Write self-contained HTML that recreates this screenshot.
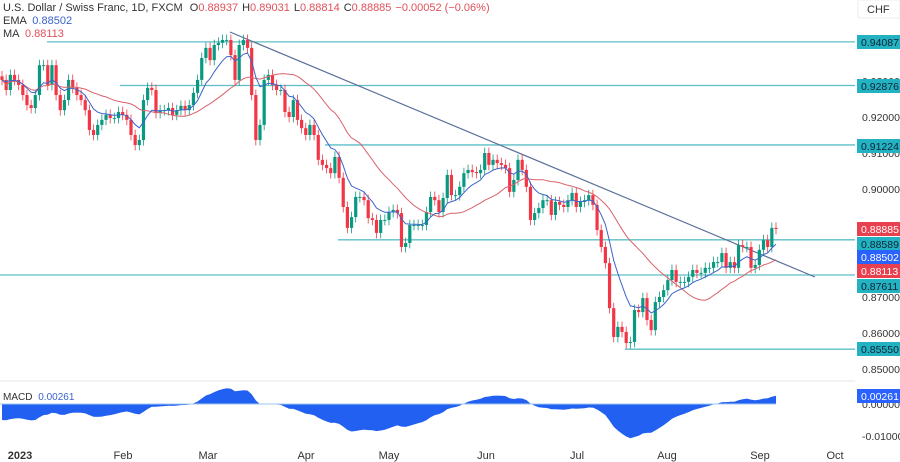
<!DOCTYPE html>
<html><head><meta charset="utf-8"><style>
body{margin:0;background:#fff;font-family:"Liberation Sans",sans-serif;}
svg{display:block}
</style></head><body>
<svg id="c" width="900" height="462" xmlns="http://www.w3.org/2000/svg">
<rect x="0" y="0" width="900" height="462" fill="#ffffff"/>
<g id="hlines"></g>
<line x1="230" y1="32" x2="815" y2="277" stroke="#5a6f9a" stroke-width="1.2"/>
<g id="candles"></g>
<path id="ma" fill="none" stroke="#d9626b" stroke-width="1"/>
<path id="ema" fill="none" stroke="#3b63c9" stroke-width="1"/>
<line x1="0" y1="381" x2="855" y2="381" stroke="#e6e6e6"/>
<path id="macd" fill="#2160f0"/>
<line x1="0" y1="404" x2="776" y2="404" stroke="#9ec5f0" stroke-width="1"/>
<g id="axis" font-size="10.5" fill="#333"></g>
<g id="labels" font-size="10.5"></g>
<g id="dates" font-size="11" fill="#333"></g>
<rect x="858" y="0" width="42" height="18" fill="#fff" stroke="#eee"/>
<text x="867" y="13" font-size="11" fill="#333">CHF</text>
<text x="3" y="11" font-size="11" fill="#333">U.S. Dollar / Swiss Franc, 1D, FXCM <tspan dx="4">O</tspan><tspan fill="#e0505a">0.88937</tspan><tspan dx="4">H</tspan><tspan fill="#e0505a">0.89031</tspan><tspan dx="4">L</tspan><tspan fill="#e0505a">0.88814</tspan><tspan dx="4">C</tspan><tspan fill="#e0505a">0.88885</tspan><tspan dx="4" fill="#e0505a">−0.00052 (−0.06%)</tspan></text>
<text x="3" y="24" font-size="11" fill="#333">EMA <tspan dx="3" fill="#3b63c9">0.88502</tspan></text>
<text x="3" y="37" font-size="11" fill="#333">MA <tspan dx="3" fill="#e0505a">0.88113</tspan></text>
<text x="3" y="400" font-size="10" fill="#333">MACD <tspan dx="3" fill="#3b63c9">0.00261</tspan></text>
</svg>
<script>
const closes=[0.9303,0.9275,0.9317,0.9303,0.9289,0.9261,0.9233,0.9225,0.9261,0.9344,0.9344,0.9289,0.9344,0.9261,0.9219,0.9247,0.9303,0.9281,0.9261,0.9247,0.9219,0.9164,0.9150,0.9178,0.9192,0.9206,0.9197,0.9197,0.9214,0.9206,0.9192,0.9150,0.9122,0.9136,0.9247,0.9281,0.9275,0.9211,0.9219,0.9219,0.9225,0.9206,0.9219,0.9231,0.9219,0.9233,0.9267,0.9303,0.9364,0.9392,0.9358,0.9400,0.9406,0.9414,0.9414,0.9372,0.9303,0.9400,0.9414,0.9392,0.9261,0.9136,0.9178,0.9303,0.9317,0.9289,0.9275,0.9275,0.9214,0.9200,0.9247,0.9192,0.9169,0.9150,0.9178,0.9150,
0.9081,0.9067,0.9058,0.9044,0.9089,0.9031,0.8950,0.8892,0.8922,0.8978,0.8978,0.8969,0.8919,0.8914,0.8878,0.8914,0.8914,0.8936,0.8942,0.8933,0.8839,0.8850,0.8900,0.8900,0.8900,0.8900,0.8936,0.8978,0.8969,0.8936,0.8975,0.9039,0.8983,0.8983,0.9006,0.9044,0.9053,0.9047,0.9044,0.9053,0.9100,0.9067,0.9081,0.9072,0.9067,0.9058,0.8992,0.9025,0.9081,0.9053,0.9006,0.8914,0.8933,0.8947,0.8969,0.8969,0.8928,0.8964,0.8956,0.8950,0.8969,0.8989,0.8950,0.8964,0.8969,0.8983,0.8956,
0.8886,0.8839,0.8794,0.8669,0.8589,0.8617,0.8603,0.8572,0.8575,0.8664,0.8658,0.8697,0.8636,0.8608,0.8686,0.8700,0.8719,0.8747,0.8775,0.8742,0.8742,0.8742,0.8756,0.8775,0.8767,0.8767,0.8781,0.8781,0.8797,0.8797,0.8822,0.8781,0.8797,0.8781,0.8844,0.8839,0.8839,0.8781,0.8789,0.8831,0.8858,0.8839,0.8892,0.8889];
const levels=[0.94087,0.92876,0.91224,0.88589,0.87611,0.85550];
const levelStartX=[47,120,325,338,0,625];
const levelTagY=[42,86,146,244,286,349];
const axisTicks=[0.93,0.92,0.91,0.90,0.89,0.87,0.86,0.85];
const tags=[["0.88885","#e8404f","#fff",229],["0.88502","#2962ff","#fff",257],["0.88113","#e8404f","#fff",271]];
const months=["2023","Feb","Mar","Apr","May","Jun","Jul","Aug","Sep","Oct"];
const monthX=[20,123,208,306,389,486,577,667,760,835];
const NS="http://www.w3.org/2000/svg";
const y=p=>189-(p-0.90)*3600;
const x0=2,x1=776;
const step=(x1-x0)/(closes.length-1);
const xi=i=>x0+i*step;
const my=v=>404-v*3200;
function mk(t,a,parent){const e=document.createElementNS(NS,t);for(const k in a)e.setAttribute(k,a[k]);parent.appendChild(e);return e;}
const hg=document.getElementById('hlines');
levels.forEach((l,i)=>{const e=mk('line',{x1:levelStartX[i],x2:855,y1:y(l),y2:y(l),stroke:'#5cbfc6','stroke-width':1.3},hg);

});
const cg=document.getElementById('candles');
closes.forEach((c,i)=>{const o=i?closes[i-1]:c+0.001;const up=c>=o;const col=up?'#089981':'#f23645';
const hi=Math.max(o,c)+0.0015,lo=Math.min(o,c)-0.0015;const cx=xi(i);
const w=mk('line',{x1:cx,x2:cx,y1:y(hi),y2:y(lo),stroke:col,'stroke-width':0.8},cg);


const top=y(Math.max(o,c)),h=Math.max(1,Math.abs(y(o)-y(c)));
const b=mk('rect',{x:cx-1.6,y:top,width:3.2,height:h,fill:col},cg);

});
function ema(arr,n){const k=2/(n+1);let r=[],v=arr[0];arr.forEach(a=>{v=a*k+v*(1-k);r.push(v);});return r;}
function sma(arr,n){return arr.map((a,i)=>{const s=arr.slice(Math.max(0,i-n+1),i+1);return s.reduce((p,q)=>p+q,0)/s.length;});}
const e9=ema(closes,9),m20=sma(closes,24);
document.getElementById('ema').setAttribute('d',e9.map((v,i)=>(i?'L':'M')+xi(i).toFixed(1)+','+y(v).toFixed(1)).join(''));
document.getElementById('ma').setAttribute('d',m20.map((v,i)=>(i?'L':'M')+xi(i).toFixed(1)+','+y(v).toFixed(1)).join(''));
const e12=ema(closes,12),e26=ema(closes,26);
const macd=e12.map((v,i)=>v-e26[i]-0.005*Math.max(0,1-i/30));
document.getElementById('macd').setAttribute('d','M'+x0+',404'+macd.map((v,i)=>'L'+xi(i).toFixed(1)+','+my(v).toFixed(1)).join('')+'L'+x1+',404Z');
const ag=document.getElementById('axis');
axisTicks.forEach(t=>{const e=mk('text',{x:862,y:y(t)+4},ag);e.textContent=t.toFixed(5);

});
[["0.00000",408],["-0.01000",440]].forEach(a=>{const e=mk('text',{x:862,y:a[1]},ag);e.textContent=a[0];

});
const lg=document.getElementById('labels');
levels.forEach((l,i)=>{const ty=levelTagY[i];const r=mk('rect',{x:857,y:ty-7,width:43,height:14,fill:'#22b2c2'},lg);


const t=mk('text',{x:861,y:ty+4,fill:'#123'},lg);t.textContent=l.toFixed(5);

});
tags.forEach(g=>{const r=mk('rect',{x:857,y:g[3]-7,width:43,height:14,fill:g[1]},lg);


const t=mk('text',{x:861,y:g[3]+4,fill:g[2]},lg);t.textContent=g[0];

});
const mr=mk('rect',{x:857,y:389,width:43,height:14,fill:'#2962ff'},lg);


const mt=mk('text',{x:861,y:400,fill:'#fff'},lg);mt.textContent='0.00261';


const dg=document.getElementById('dates');
months.forEach((m,i)=>{const t=mk('text',{x:monthX[i],y:459,'text-anchor':'middle'},dg);t.textContent=m;if(i==0)t.setAttribute('font-weight','bold');

});
</script>
</body></html>
